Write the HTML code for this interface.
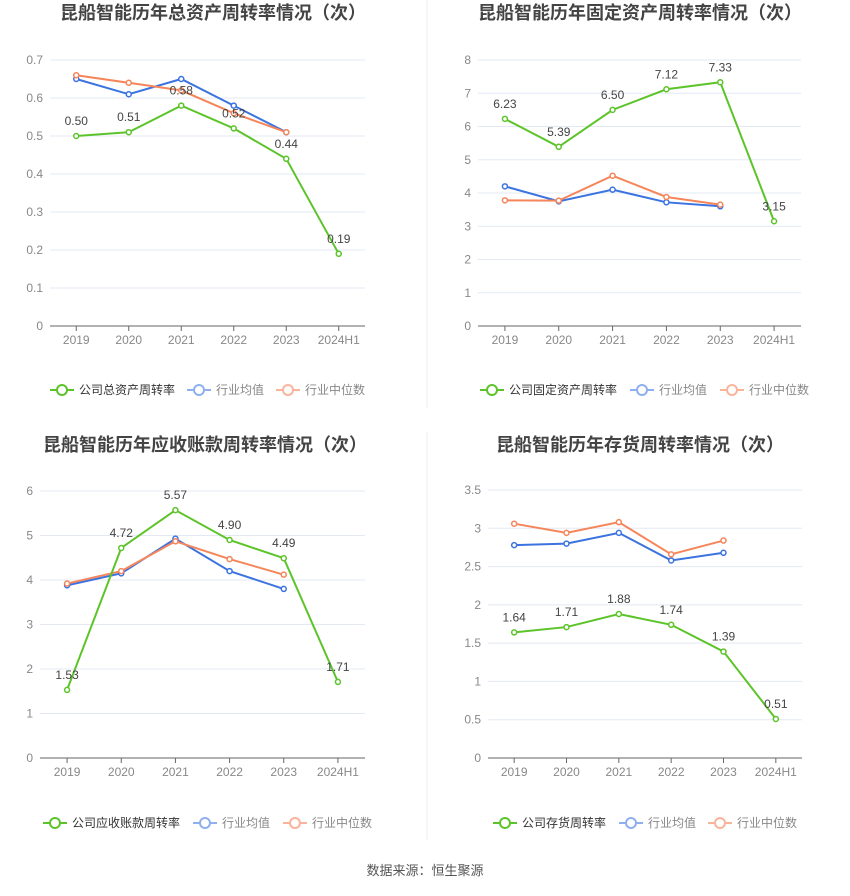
<!DOCTYPE html>
<html><head><meta charset="utf-8"><style>
body{margin:0;background:#fff;font-family:"Liberation Sans","Noto Sans CJK SC",sans-serif}
svg text{font-family:"Liberation Sans","Noto Sans CJK SC",sans-serif}
</style></head><body>
<svg id="s" width="850" height="891" viewBox="0 0 850 891" xmlns="http://www.w3.org/2000/svg">
<line x1="427" y1="0" x2="427" y2="408" stroke="#eee"/>
<line x1="427" y1="432" x2="427" y2="840" stroke="#eee"/>
<text x="425" y="875" text-anchor="middle" font-size="13" fill="#555">数据来源：恒生聚源</text>
</svg>
<script>
const years=["2019","2020","2021","2022","2023","2024H1"];
const c1Company=[0.50,0.51,0.58,0.52,0.44,0.19];
const c1Avg=[0.65,0.61,0.65,0.58,0.51];
const c1Median=[0.66,0.64,0.62,0.56,0.51];
const c1Ticks=[0,0.1,0.2,0.3,0.4,0.5,0.6,0.7];
const c2Company=[6.23,5.39,6.50,7.12,7.33,3.15];
const c2Avg=[4.20,3.75,4.10,3.72,3.60];
const c2Median=[3.78,3.77,4.52,3.88,3.65];
const c2Ticks=[0,1,2,3,4,5,6,7,8];
const c3Company=[1.53,4.72,5.57,4.90,4.49,1.71];
const c3Avg=[3.88,4.15,4.93,4.20,3.80];
const c3Median=[3.92,4.20,4.87,4.47,4.12];
const c3Ticks=[0,1,2,3,4,5,6];
const c4Company=[1.64,1.71,1.88,1.74,1.39,0.51];
const c4Avg=[2.78,2.80,2.94,2.58,2.68];
const c4Median=[3.06,2.94,3.08,2.66,2.84];
const c4Ticks=[0,0.5,1,1.5,2,2.5,3,3.5];
const NS="http://www.w3.org/2000/svg";
const svg=document.getElementById('s');
function mk(tag,attrs,parent){const e=document.createElementNS(NS,tag);for(const k in attrs)e.setAttribute(k,attrs[k]);(parent||svg).appendChild(e);return e;}
function chart(cfg){
 const g=mk('g',{});
 
 
 const max=cfg.ticks[cfg.ticks.length-1];
 const y=v=>cfg.y0-(cfg.y0-cfg.yTop)*v/max;
 const bw=(cfg.x1-cfg.x0)/years.length;
 const x=i=>cfg.x0+bw*(i+0.5);
 const t=mk('text',{x:cfg.tx,y:cfg.ty,'text-anchor':'middle','font-size':'18','font-weight':'bold',fill:'#444'},g);t.textContent=cfg.title;
 
 
 cfg.ticks.forEach(v=>{
  if(v>0){const l=mk('line',{x1:cfg.x0,x2:cfg.x1,y1:y(v),y2:y(v),stroke:'#e3e8f3'},g);
  
  }
  const tl=mk('text',{x:cfg.x0-7,y:y(v)+4,'text-anchor':'end','font-size':'12',fill:'#888'},g);tl.textContent=String(v);
  
  
 });
 const ax=mk('line',{x1:cfg.x0,x2:cfg.x1,y1:cfg.y0,y2:cfg.y0,stroke:'#666'},g);
 
 
 years.forEach((yr,i)=>{
  const tk=mk('line',{x1:x(i),x2:x(i),y1:cfg.y0,y2:cfg.y0+5,stroke:'#666'},g);
  
  
  const tl=mk('text',{x:x(i),y:cfg.y0+18,'text-anchor':'middle','font-size':'12',fill:'#888'},g);tl.textContent=yr;
  
  
 });
 function series(vals,color,name,labels){
  const p=mk('polyline',{points:vals.map((v,i)=>x(i)+','+y(v)).join(' '),fill:'none',stroke:color,'stroke-width':'2'},g);
  
  
  vals.forEach((v,i)=>{
   const c=mk('circle',{cx:x(i),cy:y(v),r:2.5,fill:'#fff',stroke:color,'stroke-width':'1.5'},g);
   
   
   if(labels){const tl=mk('text',{x:x(i),y:y(v)-11,'text-anchor':'middle','font-size':'12',fill:'#444'},g);tl.textContent=v.toFixed(2);
   
   }
  });
 }
 series(cfg.avg,'#3b73e0','industry-average',false);
 series(cfg.med,'#f5855a','industry-median',false);
 series(cfg.comp,'#5cc42a','company',true);
 const leg=[[cfg.lx,cfg.legName,'#5cc42a','#333'],[cfg.lx+137,'行业均值','#8fb0ef','#888'],[cfg.lx+226,'行业中位数','#f9b49a','#888']];
 if(cfg.legOff){leg[1][0]=cfg.lx+cfg.legOff[0];leg[2][0]=cfg.lx+cfg.legOff[1];}
 leg.forEach(([lx,txt,col,tc])=>{
  const lg=mk('g',{},g);
  
  
  mk('line',{x1:lx,x2:lx+24,y1:cfg.ly,y2:cfg.ly,stroke:col,'stroke-width':'2'},lg);
  mk('circle',{cx:lx+12,cy:cfg.ly,r:5,fill:'#fff',stroke:col,'stroke-width':'2'},lg);
  const tt=mk('text',{x:lx+29,y:cfg.ly+4,'font-size':'12',fill:tc},lg);tt.textContent=txt;
 });
}
chart({name:'total-asset-turnover-chart',title:'昆船智能历年总资产周转率情况（次）',tx:213,ty:19,x0:50,x1:365,y0:326,yTop:60,ticks:c1Ticks,comp:c1Company,avg:c1Avg,med:c1Median,legName:'公司总资产周转率',lx:50,ly:390});
chart({name:'fixed-asset-turnover-chart',title:'昆船智能历年固定资产周转率情况（次）',tx:640,ty:19,x0:478,x1:801,y0:326,yTop:60,ticks:c2Ticks,comp:c2Company,avg:c2Avg,med:c2Median,legName:'公司固定资产周转率',lx:480,ly:390,legOff:[150,240]});
chart({name:'receivables-turnover-chart',title:'昆船智能历年应收账款周转率情况（次）',tx:205,ty:451,x0:40,x1:365,y0:758,yTop:491,ticks:c3Ticks,comp:c3Company,avg:c3Avg,med:c3Median,legName:'公司应收账款周转率',lx:43,ly:823,legOff:[150,240]});
chart({name:'inventory-turnover-chart',title:'昆船智能历年存货周转率情况（次）',tx:640,ty:451,x0:488,x1:802,y0:758,yTop:490,ticks:c4Ticks,comp:c4Company,avg:c4Avg,med:c4Median,legName:'公司存货周转率',lx:493,ly:823,legOff:[126,215]});
</script>
</body></html>
